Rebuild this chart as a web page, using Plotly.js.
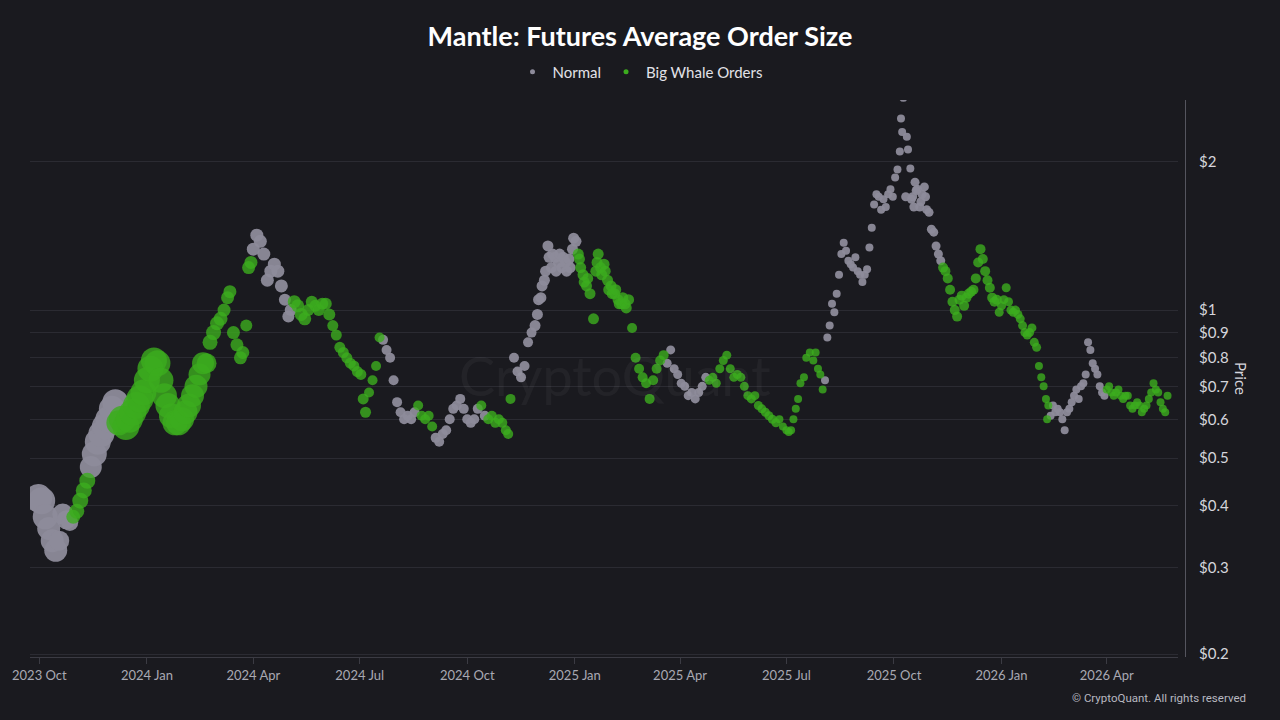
<!DOCTYPE html>
<html>
<head>
<meta charset="utf-8">
<script src="https://cdn.plot.ly/plotly-3.0.1.min.js"></script>
<style>
html,body{margin:0;padding:0;background:#1a1a1f;}
#chart{width:1280px;height:720px;}
</style>
</head>
<body>
<div id="chart"></div>
<script>
// ---- Normal orders ----
const normalDates = [
'2023-09-30','2023-10-03','2023-10-06','2023-10-09','2023-10-12','2023-10-15','2023-10-18','2023-10-21','2023-10-24','2023-10-27',
'2023-11-14','2023-11-17','2023-11-20','2023-11-23','2023-11-26','2023-11-29','2023-12-02','2023-12-05',
'2024-04-01','2024-04-04','2024-04-07','2024-04-10','2024-04-13','2024-04-16','2024-04-19','2024-04-22','2024-04-25','2024-04-28','2024-05-01','2024-05-03',
'2024-07-21','2024-07-24','2024-07-27','2024-07-30','2024-08-02','2024-08-05','2024-08-08','2024-08-11','2024-08-14','2024-08-17',
'2024-09-04','2024-09-07','2024-09-10','2024-09-13','2024-09-16','2024-09-19','2024-09-22','2024-09-25','2024-09-28','2024-10-01','2024-10-04','2024-10-07','2024-10-10','2024-10-16',
'2024-11-10','2024-11-13','2024-11-16','2024-11-19','2024-11-22','2024-11-25',
'2024-11-28','2024-11-30','2024-12-01','2024-12-03','2024-12-04','2024-12-06','2024-12-07','2024-12-09','2024-12-10','2024-12-12','2024-12-13','2024-12-15','2024-12-16','2024-12-18','2024-12-19','2024-12-21','2024-12-22','2024-12-24','2024-12-25','2024-12-27','2024-12-28','2024-12-30','2024-12-31','2025-01-02',
'2025-03-21','2025-03-24','2025-03-27','2025-03-30','2025-04-02','2025-04-05','2025-04-08','2025-04-11','2025-04-14','2025-04-17','2025-04-20','2025-04-23',
'2025-08-03','2025-08-05','2025-08-07','2025-08-09','2025-08-11','2025-08-13','2025-08-15','2025-08-17','2025-08-19','2025-08-21','2025-08-23','2025-08-25','2025-08-27','2025-08-29','2025-08-31',
'2025-09-02','2025-09-04','2025-09-06','2025-09-08','2025-09-10','2025-09-12','2025-09-14','2025-09-16','2025-09-18','2025-09-20','2025-09-22','2025-09-24','2025-09-26','2025-09-28','2025-09-30',
'2025-10-02','2025-10-04','2025-10-06','2025-10-07','2025-10-08','2025-10-09','2025-10-11','2025-10-12','2025-10-13','2025-10-15','2025-10-16','2025-10-17','2025-10-18','2025-10-19','2025-10-20','2025-10-21','2025-10-23','2025-10-24','2025-10-25','2025-10-27','2025-10-28','2025-10-29','2025-10-31',
'2025-11-02','2025-11-04','2025-11-06','2025-11-08','2025-11-10',
'2026-02-12','2026-02-14','2026-02-16','2026-02-18','2026-02-20','2026-02-22','2026-02-24','2026-02-26','2026-02-28','2026-03-02','2026-03-04','2026-03-06','2026-03-08','2026-03-10','2026-03-12','2026-03-14','2026-03-16','2026-03-18','2026-03-20','2026-03-22','2026-03-24','2026-03-26','2026-03-28','2026-03-30'
];
const normalPrices = [
0.415,0.41,0.38,0.36,0.34,0.325,0.34,0.385,0.375,0.37,
0.48,0.51,0.54,0.56,0.58,0.60,0.63,0.65,
1.33,1.42,1.38,1.30,1.15,1.20,1.24,1.20,1.12,1.05,0.97,1.00,
0.87,0.83,0.80,0.72,0.65,0.62,0.60,0.61,0.60,0.62,
0.55,0.54,0.56,0.57,0.60,0.63,0.64,0.66,0.63,0.60,0.59,0.60,0.63,0.61,
0.80,0.75,0.73,0.77,0.86,0.90,
0.93,0.98,1.05,1.06,1.12,1.15,1.20,1.35,1.28,1.22,1.30,1.28,1.20,1.25,1.30,1.22,1.28,1.25,1.20,1.27,1.22,1.33,1.40,1.38,
0.78,0.83,0.76,0.74,0.71,0.70,0.67,0.68,0.66,0.68,0.70,0.73,
0.72,0.88,0.93,1.03,0.99,1.08,1.18,1.30,1.37,1.32,1.26,1.24,1.22,1.28,1.20,
1.18,1.14,1.18,1.21,1.34,1.47,1.64,1.72,1.70,1.60,1.68,1.62,1.72,1.76,1.70,
1.86,1.93,2.10,2.45,2.30,2.70,1.70,2.25,2.12,1.94,1.68,1.70,1.62,1.82,1.75,1.76,1.62,1.66,1.72,1.78,1.70,1.60,1.58,
1.46,1.44,1.35,1.30,1.26,
0.61,0.64,0.62,0.63,0.62,0.60,0.57,0.62,0.63,0.65,0.67,0.69,0.66,0.70,0.71,0.74,0.86,0.83,0.78,0.76,0.74,0.70,0.68,0.67
];
const normalSizes = [
28,27,25,23,23,23,20,21,19,17,
22,25,26,26,26,26,26,26,
13,13,13,13,13,13,13,13,13,12,12,12,
10,10,10,10,10,10,10,10,10,10,
10,10,10,10,10,10,10,10,10,10,10,10,10,10,
10,10,10,10,10,10,
11,11,11,11,11,11,11,11,11,11,11,11,11,11,11,11,11,11,11,11,11,11,11,11,
9,9,9,9,9,9,9,9,9,9,9,9,
8,8,8,8,8,8,8,8,8,8,8,8,8,8,8,
8,8,8,8,8,8,8,8,8,8,8,8,8,8,8,
8,8,8,8,8,8,9,8,8,8,9,9,9,9,9,9,9,9,9,9,9,9,9,
9,9,9,9,9,
8,8,8,8,8,8,8,8,8,8,8,8,8,8,8,8,8,8,8,8,8,8,8,8
];

// ---- Big Whale orders ----
const whaleDates = [
'2023-10-30','2023-11-02','2023-11-05','2023-11-08','2023-11-11',
'2023-12-08','2023-12-11','2023-12-14','2023-12-17','2023-12-20','2023-12-23','2023-12-26','2023-12-29',
'2024-01-01','2024-01-04','2024-01-07','2024-01-10','2024-01-13','2024-01-16','2024-01-19','2024-01-22','2024-01-25','2024-01-28','2024-01-31',
'2024-02-03','2024-02-06','2024-02-09','2024-02-12','2024-02-15','2024-02-18','2024-02-21','2024-02-24','2024-02-27',
'2024-03-01','2024-03-04','2024-03-07','2024-03-10','2024-03-12','2024-03-15','2024-03-18','2024-03-21','2024-03-23','2024-03-26','2024-03-28','2024-03-30',
'2024-05-06','2024-05-09','2024-05-12','2024-05-15','2024-05-18','2024-05-21','2024-05-24','2024-05-27','2024-05-30',
'2024-06-02','2024-06-05','2024-06-08','2024-06-11','2024-06-14','2024-06-17','2024-06-20','2024-06-23','2024-06-26','2024-06-29',
'2024-07-02','2024-07-04','2024-07-06','2024-07-09','2024-07-12','2024-07-15','2024-07-18',
'2024-08-20','2024-08-23','2024-08-26','2024-08-29','2024-09-01',
'2024-10-13','2024-10-19','2024-10-22','2024-10-25','2024-10-28','2024-10-31','2024-11-03','2024-11-05','2024-11-07',
'2025-01-04','2025-01-05','2025-01-06','2025-01-08','2025-01-09','2025-01-11','2025-01-12','2025-01-14','2025-01-17','2025-01-19','2025-01-20','2025-01-21','2025-01-23','2025-01-24','2025-01-26','2025-01-27','2025-01-29','2025-01-30',
'2025-02-01','2025-02-02','2025-02-04','2025-02-05','2025-02-07','2025-02-08','2025-02-10','2025-02-11','2025-02-13','2025-02-14','2025-02-16',
'2025-02-19','2025-02-22','2025-02-25','2025-02-28',
'2025-03-03','2025-03-06','2025-03-09','2025-03-12','2025-03-15','2025-03-18',
'2025-04-26','2025-04-29','2025-05-02','2025-05-05','2025-05-08','2025-05-11','2025-05-14','2025-05-17','2025-05-20','2025-05-23','2025-05-26','2025-05-29',
'2025-06-01','2025-06-04','2025-06-07','2025-06-10','2025-06-13','2025-06-16','2025-06-19','2025-06-22','2025-06-25','2025-06-28',
'2025-07-01','2025-07-03','2025-07-05','2025-07-07','2025-07-09','2025-07-11','2025-07-13','2025-07-16','2025-07-18','2025-07-21','2025-07-24','2025-07-26','2025-07-28','2025-07-30','2025-08-01',
'2025-11-12','2025-11-14','2025-11-16','2025-11-18','2025-11-20','2025-11-22','2025-11-24','2025-11-26','2025-11-28','2025-11-30',
'2025-12-02','2025-12-04','2025-12-06','2025-12-08','2025-12-10','2025-12-12','2025-12-14','2025-12-16','2025-12-18','2025-12-20','2025-12-22','2025-12-24','2025-12-26','2025-12-28','2025-12-30',
'2026-01-01','2026-01-03','2026-01-05','2026-01-07','2026-01-09','2026-01-11','2026-01-13','2026-01-15','2026-01-17','2026-01-19','2026-01-21','2026-01-23','2026-01-25','2026-01-27','2026-01-29','2026-01-31',
'2026-02-02','2026-02-04','2026-02-06','2026-02-08','2026-02-09','2026-02-10',
'2026-04-01','2026-04-03','2026-04-05','2026-04-07','2026-04-09','2026-04-11','2026-04-13','2026-04-15','2026-04-17','2026-04-19','2026-04-21','2026-04-23','2026-04-25','2026-04-27','2026-04-29',
'2026-05-01','2026-05-03','2026-05-05','2026-05-07','2026-05-09','2026-05-11','2026-05-13','2026-05-15','2026-05-17','2026-05-19','2026-05-21','2026-05-23'
];
const whalePrices = [
0.38,0.39,0.41,0.43,0.45,
0.59,0.60,0.58,0.60,0.62,0.64,0.66,0.68,
0.72,0.76,0.79,0.78,0.72,0.67,0.64,0.61,0.59,0.59,0.60,
0.62,0.64,0.67,0.70,0.74,0.78,0.78,0.86,0.90,
0.94,0.96,1.00,1.06,1.09,0.90,0.85,0.80,0.82,0.93,1.22,1.25,
1.04,1.02,0.98,0.96,1.00,1.04,1.02,1.00,1.03,
1.03,0.98,0.93,0.89,0.84,0.82,0.80,0.78,0.77,0.75,
0.74,0.66,0.62,0.68,0.72,0.77,0.88,
0.64,0.61,0.60,0.61,0.58,
0.64,0.60,0.61,0.59,0.60,0.59,0.57,0.56,0.66,
1.30,1.27,1.22,1.18,1.14,1.12,1.16,1.08,0.96,1.20,1.25,1.30,1.22,1.18,1.24,1.20,1.15,1.10,
1.12,1.08,1.08,1.10,1.05,1.03,1.03,1.06,1.03,1.01,1.05,
0.92,0.80,0.76,0.73,
0.71,0.66,0.72,0.76,0.79,0.81,
0.72,0.73,0.71,0.76,0.79,0.81,0.76,0.73,0.74,0.73,0.70,0.67,
0.66,0.67,0.64,0.63,0.62,0.61,0.60,0.59,0.60,0.58,
0.57,0.565,0.57,0.60,0.63,0.66,0.71,0.73,0.80,0.82,0.79,0.82,0.76,0.74,0.69,
1.22,1.20,1.16,1.10,1.04,1.00,0.97,1.05,1.07,1.02,
1.06,1.08,1.09,1.10,1.16,1.25,1.33,1.27,1.20,1.15,1.11,1.06,1.04,1.05,0.99,
1.02,1.05,1.11,1.04,1.00,0.99,1.00,0.98,0.96,0.93,0.90,0.89,0.90,0.92,0.86,0.84,
0.77,0.73,0.70,0.66,0.60,0.64,
0.69,0.70,0.68,0.67,0.68,0.69,0.67,0.66,0.67,0.67,0.64,0.63,0.64,0.65,0.64,
0.62,0.63,0.64,0.66,0.68,0.71,0.69,0.68,0.65,0.63,0.62,0.67
];
const whaleSizes = [
14,15,16,16,16,
25,27,27,27,27,27,27,26,
26,26,26,26,25,25,25,25,25,25,24,
24,24,23,23,22,22,20,15,15,
14,14,13,13,13,13,13,13,13,12,13,13,
13,13,13,13,12,12,12,12,12,
12,12,11,11,11,11,11,11,11,11,
11,11,11,10,10,10,10,
10,10,10,10,10,
10,10,10,10,10,10,10,10,10,
11,11,11,11,11,11,11,11,11,11,11,11,11,11,11,11,11,11,
11,11,11,11,11,11,11,11,11,11,11,
10,10,10,10,
10,10,10,10,10,10,
9,9,9,9,9,9,9,9,9,9,9,9,
9,9,9,9,9,9,9,9,8,8,
8,8,8,8,8,8,8,8,8,8,8,8,8,8,8,
10,10,10,10,10,10,10,10,10,10,
10,10,10,10,10,10,10,10,10,10,10,10,10,10,9,
9,9,9,9,9,9,9,9,9,9,9,9,9,9,9,9,
8,8,8,8,8,8,
8,8,8,8,8,8,8,8,8,8,8,8,8,8,8,
8,8,8,8,8,8,8,8,8,8,8,8
];

// ---- Axis ticks ----
const xTickVals = ['2023-10-01','2024-01-01','2024-04-01','2024-07-01','2024-10-01','2025-01-01','2025-04-01','2025-07-01','2025-10-01','2026-01-01','2026-04-01'];
const xTickText = ['2023 Oct','2024 Jan','2024 Apr','2024 Jul','2024 Oct','2025 Jan','2025 Apr','2025 Jul','2025 Oct','2026 Jan','2026 Apr'];
const yTickVals = [0.2,0.3,0.4,0.5,0.6,0.7,0.8,0.9,1,2];
const yTickText = ['$0.2','$0.3','$0.4','$0.5','$0.6','$0.7','$0.8','$0.9','$1','$2'];

const GREY = 'rgb(141,139,154)';
const GREEN = 'rgb(60,172,30)';
const FONT = 'Lato, "Noto Sans", sans-serif';

const traces = [
  {type:'scatter', mode:'markers', name:'Normal', showlegend:false,
   x: normalDates, y: normalPrices,
   marker:{color:GREY, size: normalSizes, opacity:0.95, line:{width:0}}, hoverinfo:'skip'},
  {type:'scatter', mode:'markers', name:'Big Whale Orders', showlegend:false,
   x: whaleDates, y: whalePrices,
   marker:{color:GREEN, size: whaleSizes, opacity:0.8, line:{width:0}}, hoverinfo:'skip'},
  {type:'scatter', mode:'markers', name:'Normal', x:[null], y:[null],
   marker:{color:GREY, size:5}},
  {type:'scatter', mode:'markers', name:'Big Whale Orders', x:[null], y:[null],
   marker:{color:GREEN, size:5}}
];

const layout = {
  width:1280, height:720,
  paper_bgcolor:'#1a1a1f', plot_bgcolor:'#1a1a1f',
  margin:{l:30, r:95, t:100, b:63},
  font:{family:FONT, color:'#d5d5dc'},
  title:{text:'<b>Mantle: Futures Average Order Size</b>', font:{family:FONT, size:27, color:'#ffffff'},
         x:0.5, xref:'container', xanchor:'center', y:1-37/720, yref:'container', yanchor:'middle'},
  showlegend:true,
  legend:{orientation:'h', xref:'container', yref:'container', x:0.5, xanchor:'center', y:1-72/720, yanchor:'middle',
          font:{family:FONT, size:15, color:'#e2e2e8'}, bgcolor:'rgba(0,0,0,0)'},
  xaxis:{type:'date', range:['2023-09-23','2026-06-01'], domain:[0,0.994],
         showgrid:false, zeroline:false, showline:true, linecolor:'#3b3b43', linewidth:1,
         ticks:'outside', ticklen:6, tickcolor:'#3b3b43',
         tickvals:xTickVals, ticktext:xTickText,
         tickfont:{family:FONT, size:13, color:'#a9a9b3'}},
  yaxis:{type:'log', range:[-0.705, 0.427], anchor:'free', position:1, side:'right',
         showline:true, linecolor:'#55555e', linewidth:1,
         showgrid:true, gridcolor:'#2b2b32', gridwidth:1, zeroline:false,
         ticks:'', ticklabelstandoff:10,
         tickvals:yTickVals, ticktext:yTickText,
         tickfont:{family:FONT, size:15, color:'#d5d5dc'}},
  annotations:[
    {text:'CryptoQuant', xref:'paper', yref:'paper', x:(615-30)/1155, y:(657-375)/557,
     xanchor:'center', yanchor:'middle',
     showarrow:false, font:{family:FONT, size:54, color:'rgba(255,255,255,0.045)'}},
    {text:'Price', xref:'paper', yref:'paper', x:(1241-30)/1155, y:(657-378)/557,
     xanchor:'center', yanchor:'middle',
     showarrow:false, textangle:90, font:{family:FONT, size:15, color:'#d5d5dc'}},
    {text:'© CryptoQuant. All rights reserved', xref:'paper', yref:'paper', x:(1248-30)/1155, xanchor:'right',
     y:(657-698)/557, yanchor:'middle', showarrow:false,
     font:{family:'"Liberation Sans Narrow", Roboto, sans-serif', size:11.5, color:'#b8b8c0'}}
  ]
};

Plotly.newPlot('chart', traces, layout, {displayModeBar:false, staticPlot:true});
</script>
</body>
</html>
